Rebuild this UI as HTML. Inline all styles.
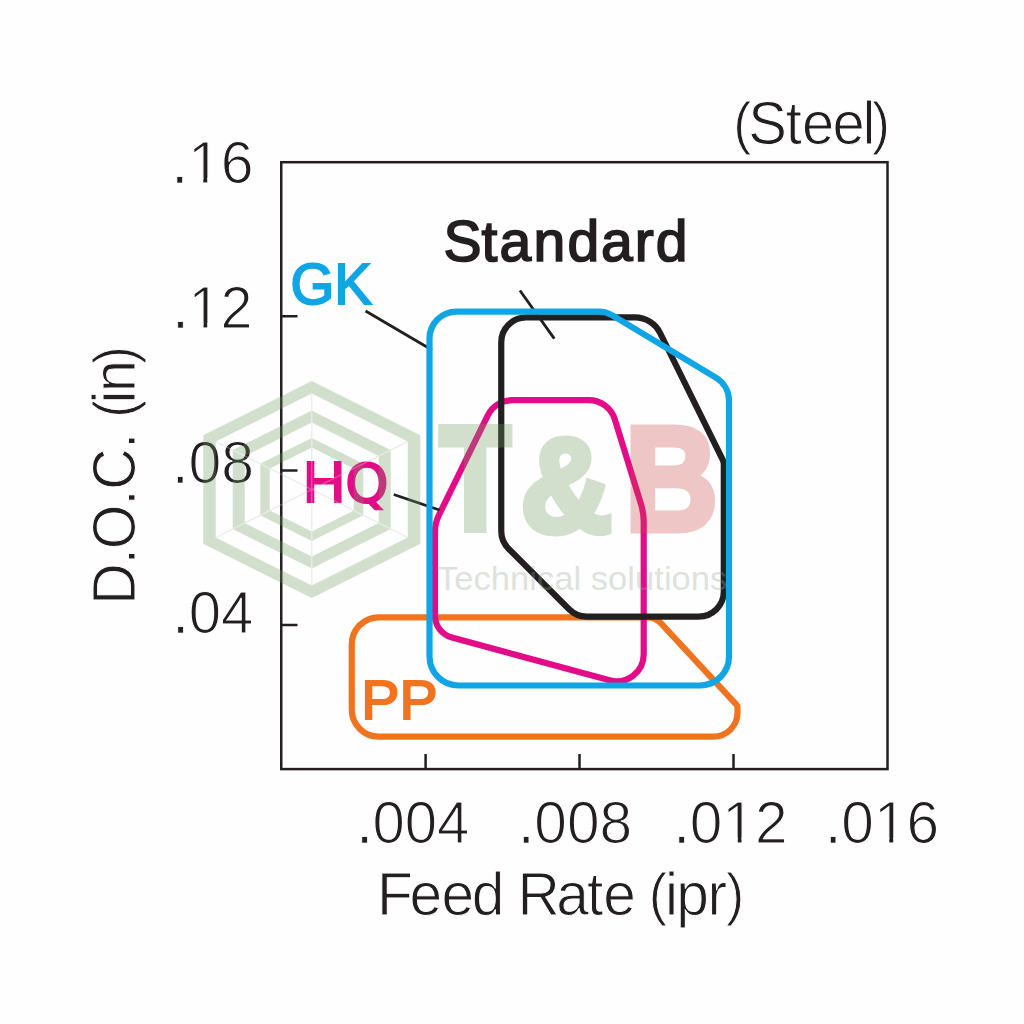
<!DOCTYPE html>
<html><head><meta charset="utf-8"><title>Chart</title>
<style>html,body{margin:0;padding:0;background:#fefefe}svg{display:block}text{font-family:"Liberation Sans",sans-serif}</style>
</head><body>
<svg width="1024" height="1024" viewBox="0 0 1024 1024">
<rect width="1024" height="1024" fill="#fefefe"/>
<g id="spokes" stroke="#e1e4e0" stroke-width="1.1"><line x1="311.75" y1="489.5" x2="311.75" y2="393.50"/><line x1="311.75" y1="489.5" x2="407.75" y2="441.50"/><line x1="311.75" y1="489.5" x2="407.75" y2="537.50"/><line x1="311.75" y1="489.5" x2="311.75" y2="585.50"/><line x1="311.75" y1="489.5" x2="215.75" y2="537.50"/><line x1="311.75" y1="489.5" x2="215.75" y2="441.50"/></g>
<g id="axes" fill="none" stroke="#231f20" stroke-width="2.5">
<rect x="281.25" y="162.2" width="606.25" height="606.9"/>
<path d="M281.25 316.25H297.5M281.25 470.5H297.5M281.25 625H297.5M425.6 769V754M579.5 769V754M733.5 769V754"/>
</g>
<g id="labels">
<text transform="translate(0.00 143.80) scale(0.9500 1)" font-size="61.00" fill="#231f20" font-weight="normal" stroke="#fff" stroke-width="1.00" x="771.9 787.7 827.0 844.3 876.3 907.9 917.8"><tspan font-size="57.0" dy="-1">(</tspan><tspan dy="1">S</tspan>teel<tspan font-size="57.0" dy="-1">)</tspan></text>
<text transform="translate(171.50 183.35) scale(0.9880 1)" font-size="59.70" fill="#231f20" font-weight="normal" stroke="#fff" stroke-width="1.20"><tspan stroke-width="0.7">.</tspan>16</text>
<text transform="translate(172.50 328.35) scale(0.9617 1)" font-size="59.70" fill="#231f20" font-weight="normal" stroke="#fff" stroke-width="1.20"><tspan stroke-width="0.7">.</tspan>12</text>
<text transform="translate(172.00 482.85) scale(0.9883 1)" font-size="59.70" fill="#231f20" font-weight="normal" stroke="#fff" stroke-width="1.20"><tspan stroke-width="0.7">.</tspan>08</text>
<text transform="translate(172.50 633.10) scale(0.9741 1)" font-size="59.70" fill="#231f20" font-weight="normal" stroke="#fff" stroke-width="1.20"><tspan stroke-width="0.7">.</tspan>04</text>
<text transform="translate(356.40 843.10) scale(0.9727 1)" font-size="59.70" fill="#231f20" font-weight="normal" stroke="#fff" stroke-width="1.20"><tspan stroke-width="0.7">.</tspan>004</text>
<text transform="translate(518.00 843.10) scale(0.9830 1)" font-size="59.70" fill="#231f20" font-weight="normal" stroke="#fff" stroke-width="1.20"><tspan stroke-width="0.7">.</tspan>008</text>
<text transform="translate(673.40 843.10) scale(0.9821 1)" font-size="59.70" fill="#231f20" font-weight="normal" stroke="#fff" stroke-width="1.20"><tspan stroke-width="0.7">.</tspan>012</text>
<text transform="translate(825.00 843.10) scale(0.9824 1)" font-size="59.70" fill="#231f20" font-weight="normal" stroke="#fff" stroke-width="1.20"><tspan stroke-width="0.7">.</tspan>016</text>
<text transform="translate(0.00 914.80) scale(0.9650 1)" font-size="60.80" fill="#231f20" font-weight="normal" stroke="#fff" stroke-width="1.00" x="390.7 424.3 457.4 488.9 512.6 536.3 576.5 608.2 625.1 648.7 672.3 689.1 700.8 733.1 752.3">Feed Rate <tspan font-size="57.0" dy="-1">(</tspan><tspan dy="1">i</tspan>pr<tspan font-size="57.0" dy="-1">)</tspan></text>
<text transform="translate(135.40 599.75) rotate(-90) scale(0.9300 1)" font-size="61.70" fill="#231f20" font-weight="normal" stroke="#fff" stroke-width="1.00" x="-5.5 38.1 54.2 101.3 118.2 162.3 179.0 195.7 210.9 223.3 253.6">D.O.C. <tspan font-size="57.7" dy="-1">(</tspan><tspan dy="1">i</tspan>n<tspan font-size="57.7" dy="-1">)</tspan></text>
<text transform="translate(0.00 260.50) scale(1.0000 1)" font-size="57.10" fill="#231f20" font-weight="normal" stroke="#231f20" stroke-width="1.70" x="443.4 481.6 499.5 533.5 567.4 600.9 634.8 655.8">Standard</text>
<text transform="translate(290.50 304.00) scale(0.9915 1)" font-size="56.80" fill="#10a5e5" font-weight="normal" stroke="#10a5e5" stroke-width="2.00">GK</text>
<text transform="translate(303.00 501.50) scale(1.0291 1)" font-size="56.80" fill="#e20c88" font-weight="normal" stroke="#e20c88" stroke-width="2.00">H<tspan font-family="DejaVu Sans" font-size="53.4">Q</tspan></text>
<text transform="translate(361.30 719.00) scale(1.0264 1)" font-size="55.70" fill="#f07420" font-weight="normal" stroke="#f07420" stroke-width="2.00">PP</text>
</g>
<g id="patch" fill="#fefefe"><rect x="191.80" y="177.90" width="11.45" height="6.8"/><rect x="207.25" y="177.90" width="11.20" height="6.8"/><rect x="192.30" y="322.90" width="11.20" height="6.8"/><rect x="207.25" y="322.90" width="10.95" height="6.8"/><rect x="726.30" y="837.65" width="11.45" height="6.8"/><rect x="741.50" y="837.65" width="11.20" height="6.8"/><rect x="877.80" y="837.65" width="11.45" height="6.8"/><rect x="893.25" y="837.65" width="10.95" height="6.8"/></g>
<g id="curves" fill="none" stroke-width="6.2" stroke-linejoin="round">
<path d="M351.75 644.40 A27.00 27.00 0 0 1 378.75 617.40 L647.65 617.40 A18.00 18.00 0 0 1 660.84 623.15 L736.43 704.55 A4.00 4.00 0 0 1 737.50 707.27 L737.50 712.60 A24.00 24.00 0 0 1 713.50 736.60 L378.75 736.60 A27.00 27.00 0 0 1 351.75 709.60 Z" stroke="#f07420"/>
<path d="M487.79 415.32 A27.00 27.00 0 0 1 512.03 400.20 L588.98 400.20 A27.00 27.00 0 0 1 614.78 419.23 L641.02 504.14 A60.00 60.00 0 0 1 643.70 521.86 L643.70 654.30 A27.00 27.00 0 0 1 609.63 680.36 L451.98 637.60 A23.00 23.00 0 0 1 435.00 615.41 L435.00 531.81 A38.00 38.00 0 0 1 438.88 515.09 Z" stroke="#e20c88"/>
<path d="M501.25 342.40 A25.00 25.00 0 0 1 526.25 317.40 L635.00 317.40 A28.00 28.00 0 0 1 660.10 333.00 L722.77 459.91 A10.00 10.00 0 0 1 723.80 464.33 L723.80 591.60 A25.00 25.00 0 0 1 698.80 616.60 L586.76 616.60 A25.00 25.00 0 0 1 569.08 609.27 L508.57 548.72 A25.00 25.00 0 0 1 501.25 531.05 Z" stroke="#231f20"/>
<path d="M365.6 311L432 350M519.9 290.5L554.3 338.6M393.75 494.5L439.5 510" stroke="#231f20" stroke-width="2.8"/>
<path d="M429.50 338.60 A27.00 27.00 0 0 1 456.50 311.60 L598.51 311.60 A27.00 27.00 0 0 1 612.42 315.46 L715.91 377.63 A27.00 27.00 0 0 1 729.00 400.78 L729.00 656.50 A29.00 29.00 0 0 1 700.00 685.50 L458.50 685.50 A29.00 29.00 0 0 1 429.50 656.50 Z" stroke="#10a5e5"/>
</g>
<g id="watermark" opacity="0.3">
<path d="M311.75 381.00 L420.25 435.25 L420.25 543.75 L311.75 598.00 L203.25 543.75 L203.25 435.25Z M311.75 393.50 L407.75 441.50 L407.75 537.50 L311.75 585.50 L215.75 537.50 L215.75 441.50Z M311.75 410.50 L390.75 450.00 L390.75 529.00 L311.75 568.50 L232.75 529.00 L232.75 450.00Z M311.75 422.50 L378.75 456.00 L378.75 523.00 L311.75 556.50 L244.75 523.00 L244.75 456.00Z M311.75 438.00 L363.25 463.75 L363.25 515.25 L311.75 541.00 L260.25 515.25 L260.25 463.75Z M311.75 447.50 L353.75 468.50 L353.75 510.50 L311.75 531.50 L269.75 510.50 L269.75 468.50Z" fill="#749b60" fill-rule="evenodd"/>
<g stroke="#fff" stroke-width="1.2"><line x1="311.75" y1="489.5" x2="311.75" y2="393.50"/><line x1="311.75" y1="489.5" x2="407.75" y2="441.50"/><line x1="311.75" y1="489.5" x2="407.75" y2="537.50"/><line x1="311.75" y1="489.5" x2="311.75" y2="585.50"/><line x1="311.75" y1="489.5" x2="215.75" y2="537.50"/><line x1="311.75" y1="489.5" x2="215.75" y2="441.50"/></g>
<text transform="translate(439.50 530.25) scale(0.7898 1)" font-size="148.00" fill="#749b60" font-weight="bold" stroke="#749b60" stroke-width="7.00" stroke-linejoin="miter">T</text><text transform="translate(520.50 531.80) scale(0.9434 1)" font-size="134.50" fill="#749b60" font-weight="bold" stroke="#749b60" stroke-width="7.00">&amp;</text><text transform="translate(625.00 530.25) scale(0.8699 1)" font-size="148.00" fill="#cd4848" font-weight="bold" stroke="#cd4848" stroke-width="7.00" stroke-linejoin="miter">B</text>
<text transform="translate(437.00 590.00) scale(1.0550 1)" font-size="32.80" fill="#97a591" font-weight="normal">Technical solutions</text>
</g>
</svg>
</body></html>
